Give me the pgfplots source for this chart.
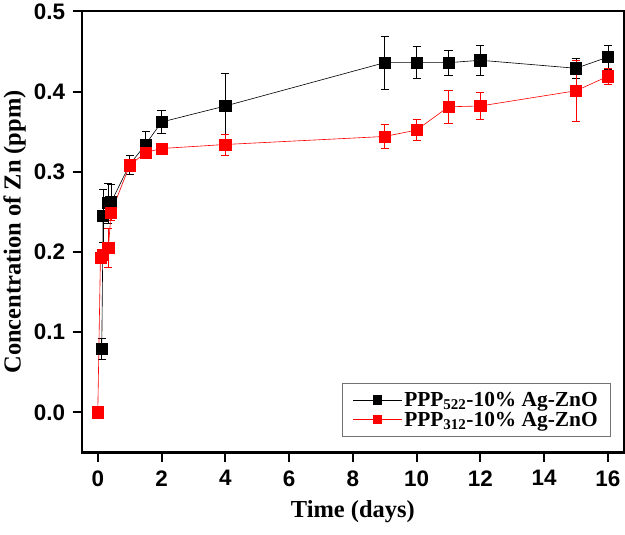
\documentclass[border=0pt]{standalone}
\usepackage{pgfplots}
\pgfplotsset{compat=1.18}
\usepackage{fontspec}
\setmainfont{Liberation Serif}
\setsansfont{Liberation Sans}
\begin{document}
\begin{tikzpicture}
\begin{axis}[
  scale only axis,
  width=532pt, height=433pt,
  xmin=-0.5, xmax=16.5, ymin=-0.05, ymax=0.5,
  xtick={0,2,...,16}, ytick={0,0.1,...,0.5},
  axis line style={line width=2.2pt},
  tick style={line width=2pt, black},
  tick align=outside, major tick length=9pt,
  xtick pos=bottom, ytick pos=left,
  /pgf/number format/assume math mode=true,
  ticklabel style={font=\fontsize{22}{22}\selectfont\sffamily\bfseries},
  yticklabel style={xshift=-4pt, /pgf/number format/.cd, fixed, fixed zerofill, precision=1},
  xticklabel style={yshift=-5pt},
  xlabel={Time (days)}, ylabel={Concentration of Zn (ppm)},
  xlabel shift=7pt, ylabel shift=1pt,
  label style={font=\fontsize{24}{24}\selectfont\bfseries},
  legend style={at={(0.975,0.035)}, anchor=south east, draw=black!55, line width=0.6pt,
    font=\fontsize{21}{25}\selectfont\bfseries, cells={anchor=west}, inner xsep=10pt, inner ysep=7pt},
  legend image code/.code={\draw[mark repeat=2,mark phase=2] plot coordinates {(0pt,0pt) (24pt,0pt) (48pt,0pt)};},
  legend image post style={mark size=4pt},
  error bars/error bar style={line width=0.6pt},
  error bars/error mark options={rotate=90, mark size=4pt, line width=0.6pt},
]
\addplot[black, line width=0.6pt, mark=square*, mark size=5.5pt, mark options={solid},
  error bars/.cd, y dir=both, y explicit] table[x=x, y=y, y error=e] {
x y e
0.125 0.079 0.013
0.167 0.245 0.033
0.333 0.261 0.025
0.417 0.262 0.022
1 0.309 0.012
1.5 0.334 0.017
2 0.362 0.014
4 0.382 0.041
9 0.436 0.033
10 0.436 0.020
11 0.436 0.016
12 0.439 0.019
15 0.429 0.012
16 0.443 0.015
};
\addlegendentry{PPP\textsubscript{522}-10\% Ag-ZnO}
\addplot[red, line width=0.6pt, mark=square*, mark size=5.5pt, mark options={solid},
  error bars/.cd, y dir=both, y explicit] table[x=x, y=y, y error=e] {
x y e
0 0 0
0.083 0.193 0.005
0.167 0.196 0.005
0.333 0.205 0.024
0.417 0.249 0.010
1 0.308 0.008
1.5 0.324 0.006
2 0.329 0.003
4 0.334 0.013
9 0.344 0.015
10 0.352 0.013
11 0.381 0.020
12 0.382 0.017
15 0.401 0.038
16 0.419 0.010
};
\addlegendentry{PPP\textsubscript{312}-10\% Ag-ZnO}
\end{axis}
\path (current bounding box.south) ++(0,-8pt);
\end{tikzpicture}
\end{document}
